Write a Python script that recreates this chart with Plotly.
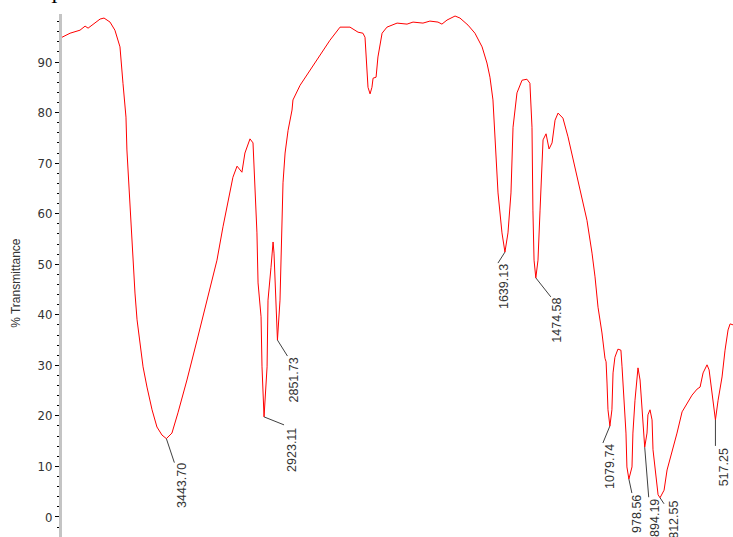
import plotly.graph_objects as go

# IR spectrum (wavenumber cm-1, % transmittance)
wavenumber = [4000, 3957, 3904, 3877, 3861, 3824, 3797, 3776, 3744, 3718, 3702, 3691, 3675, 3659,
              3654, 3643, 3632, 3622, 3611, 3600, 3584, 3568, 3547, 3520, 3494, 3467, 3443.70,
              3414, 3382, 3334, 3280, 3227, 3174, 3142, 3115, 3089, 3067, 3041, 3025, 2998, 2982,
              2971, 2961, 2955, 2939, 2934, 2929, 2923.11, 2907, 2902, 2886, 2875, 2870, 2865,
              2854, 2851.73, 2838, 2827, 2822, 2811, 2795, 2774, 2769, 2731, 2678, 2625, 2572,
              2518, 2465, 2422, 2396, 2385, 2374, 2369, 2358, 2348, 2342, 2326, 2316, 2294, 2268,
              2214, 2161, 2129, 2076, 2039, 1996, 1975, 1948, 1905, 1879, 1836, 1799, 1761, 1735,
              1719, 1703, 1692, 1676, 1655, 1639.13, 1623, 1607, 1596, 1575, 1548, 1522, 1506,
              1495, 1490, 1484, 1474.58, 1463, 1452, 1442, 1436, 1420, 1404, 1388, 1372, 1356,
              1330, 1303, 1266, 1239, 1202, 1175, 1159, 1143, 1122, 1106, 1100, 1095, 1090,
              1079.74, 1069, 1063, 1053, 1037, 1021, 1015, 1005, 994, 989, 978.56, 962, 957, 946,
              935, 930, 919, 909, 894.19, 882, 877, 866, 855, 850, 834, 823, 812.55, 791, 775,
              749, 722, 695, 669, 642, 615, 599, 583, 562, 551, 535, 517.25, 503, 482, 466, 450,
              439, 423]
transmittance = [94.9, 95.7, 96.3, 97.1, 96.7, 97.7, 98.5, 98.7, 97.9, 96.3, 94.3, 93.0, 85.8, 79.1,
                 72.6, 64.7, 59.3, 50.8, 44.3, 39.0, 34.4, 29.7, 25.7, 21.2, 17.8, 16.2, 15.5,
                 16.6, 20.6, 27.1, 35.0, 42.9, 50.8, 57.4, 62.1, 67.2, 69.4, 68.2, 72.0, 74.8, 74.0,
                 66.1, 56.2, 46.3, 39.6, 29.7, 23.1, 19.8, 29.7, 42.9, 49.4, 54.4, 52.2, 46.3,
                 37.6, 35.0, 42.9, 56.2, 66.1, 72.0, 76.5, 80.5, 82.5, 85.4, 88.4, 91.4, 94.3,
                 96.9, 96.9, 95.9, 95.7, 94.9, 89.0, 85.0, 83.7, 85.0, 86.8, 87.0, 91.0, 95.7, 96.9,
                 97.7, 97.5, 97.9, 97.7, 98.1, 97.9, 97.5, 98.3, 99.1, 98.7, 97.3, 95.7, 93.0, 89.8,
                 87.0, 82.5, 74.0, 64.1, 56.2, 52.4, 56.2, 64.1, 77.1, 83.9, 86.4, 86.6, 85.8,
                 77.1, 60.7, 50.8, 47.3, 50.8, 60.7, 70.6, 74.6, 75.8, 72.8, 74.0, 78.5, 79.9,
                 78.9, 75.2, 69.2, 64.7, 58.7, 52.2, 47.5, 41.5, 36.4, 31.4, 30.7, 26.5, 21.2,
                 18.0, 21.2, 28.5, 31.6, 33.2, 33.0, 29.7, 23.1, 16.6, 9.9, 7.5, 9.9, 16.6, 23.1,
                 28.7, 29.5, 27.1, 21.2, 13.8, 16.6, 20.2, 21.2, 19.2, 13.3, 7.9, 4.4, 3.8, 5.3, 9.3,
                 12.7, 16.6, 20.8, 22.5, 24.1, 25.3, 25.7, 28.5, 30.1, 29.1, 24.5, 19.2, 23.1, 27.7,
                 33.0, 37.0, 38.2, 38.0]

peak_labels = ["3443.70", "2923.11", "2851.73", "1639.13", "1474.58",
               "1079.74", "978.56", "894.19", "812.55", "517.25"]
peak_wn = [3443.70, 2923.11, 2851.73, 1639.13, 1474.58, 1079.74, 978.56, 894.19, 812.55, 517.25]
peak_T = [15.5, 19.8, 35.0, 52.4, 47.3, 18.0, 7.5, 13.8, 3.8, 19.2]

y_ticks = [0, 10, 20, 30, 40, 50, 60, 70, 80, 90]

# leader line end offsets and label centre offsets (pixels, screen y downward)
leader_end = [(8, 24), (20, 8), (10, 16), (-7, 11), (15, 19), (-7, 17), (3, 14), (4, 50), (4, 6), (0, 26)]
label_ctr = [(15, 47), (28, 33), (17, 40), (-1, 34), (21, 42), (0, 40), (8, 35), (11, 71), (14, 22), (8, 47)]

fig = go.Figure()
fig.add_trace(go.Scatter(x=wavenumber, y=transmittance, mode="lines",
                         line=dict(color="#ff0000", width=1), hoverinfo="skip", showlegend=False))

shapes = []
annotations = []
for lab, wn, t, (lx, ly), (cx, cy) in zip(peak_labels, peak_wn, peak_T, leader_end, label_ctr):
    shapes.append(dict(type="line", xref="x", yref="y", xsizemode="pixel", ysizemode="pixel",
                       xanchor=wn, yanchor=t, x0=0, y0=0, x1=lx, y1=-ly,
                       line=dict(color="#404040", width=1)))
    annotations.append(dict(x=wn, y=t, xref="x", yref="y", text=lab, showarrow=False,
                            textangle=-90, xanchor="center", yanchor="middle",
                            xshift=cx, yshift=-cy,
                            font=dict(family="Liberation Sans, Arial", size=12.5, color="#333333")))

annotations.append(dict(x=0, y=0.486, xref="paper", yref="paper", text="% Transmittance",
                        showarrow=False, textangle=-90, xanchor="center", yanchor="middle",
                        xshift=-46, font=dict(family="Liberation Sans, Arial", size=12, color="#333333")))
annotations.append(dict(x=0, y=1, xref="paper", yref="paper", text="I", showarrow=False,
                        xanchor="center", yanchor="bottom", xshift=-8, yshift=5,
                        font=dict(family="Liberation Serif, Times New Roman", size=20, color="#000000")))

fig.update_layout(
    width=733, height=537,
    margin=dict(l=62, r=0, t=14, b=0),
    paper_bgcolor="white", plot_bgcolor="white",
    shapes=shapes, annotations=annotations,
    xaxis=dict(range=[4000, 423.6], visible=False, showgrid=False, zeroline=False),
    yaxis=dict(range=[-3.96, 99.5], tickvals=y_ticks, showgrid=False, zeroline=False,
               showline=True, linecolor="#c4c4c4", linewidth=3,
               ticks="outside", ticklen=4, tickcolor="#000000", tickwidth=1,
               minor=dict(dtick=2, ticks="outside", ticklen=2, tickcolor="#000000", tickwidth=1),
               tickfont=dict(family="Liberation Sans Narrow, DejaVu Sans Condensed, Arial",
                             size=13, color="#333333")),
)

fig.write_html("out.html")
